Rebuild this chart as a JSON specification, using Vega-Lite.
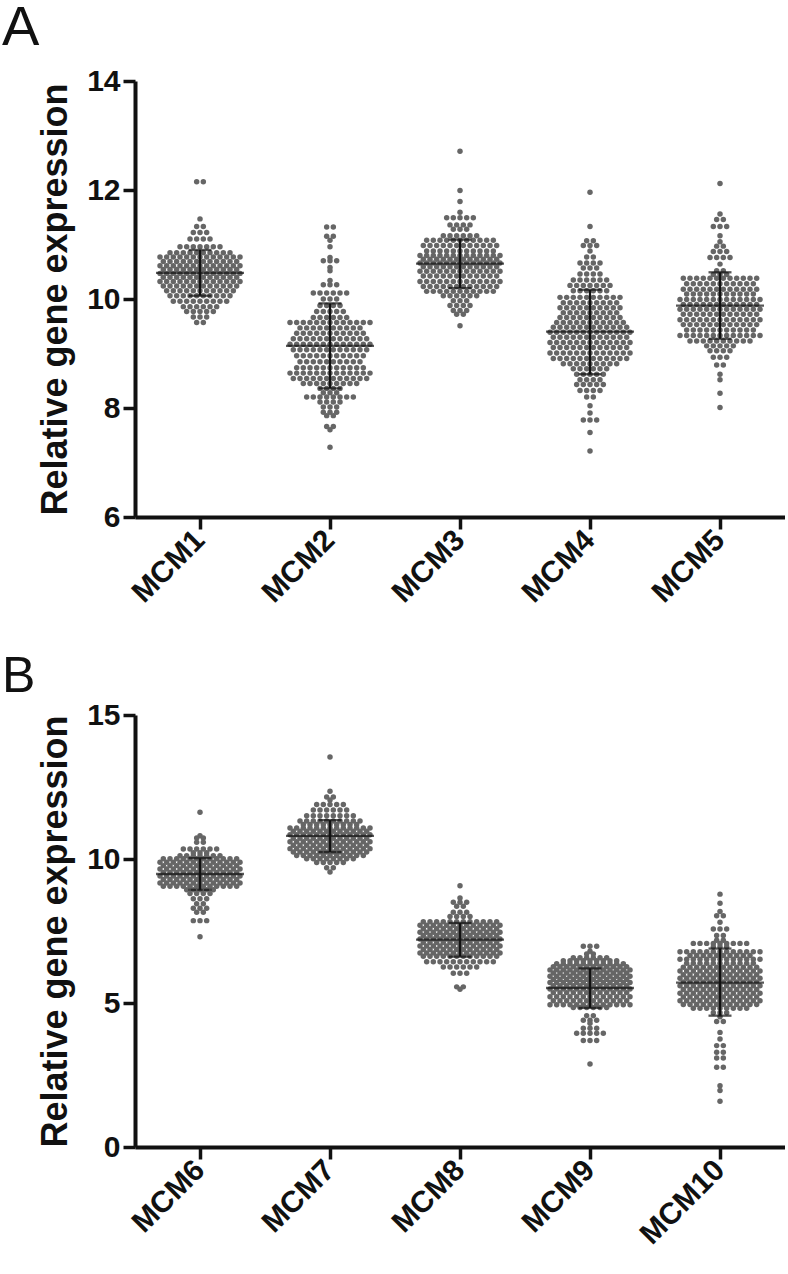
{
"$schema": "https://vega.github.io/schema/vega-lite/v6.json",
"background": "white",
"padding": {"left": 2, "top": 0, "right": 0, "bottom": 0},
"spacing": 198,
"bounds": "flush",
"datasets": {
"sa": [
{"g":"MCM1","m":10.48,"lo":10.06,"hi":10.90},
{"g":"MCM2","m":9.14,"lo":8.36,"hi":9.92},
{"g":"MCM3","m":10.65,"lo":10.20,"hi":11.09},
{"g":"MCM4","m":9.40,"lo":8.62,"hi":10.17},
{"g":"MCM5","m":9.88,"lo":9.27,"hi":10.49}
],
"sb": [
{"g":"MCM6","m":9.48,"lo":8.93,"hi":10.03},
{"g":"MCM7","m":10.80,"lo":10.24,"hi":11.35},
{"g":"MCM8","m":7.20,"lo":6.61,"hi":7.78},
{"g":"MCM9","m":5.52,"lo":4.83,"hi":6.20},
{"g":"MCM10","m":5.71,"lo":4.56,"hi":6.89}
]
},
"vconcat": [
{
"title": {"text": "A", "offset": 9, "fontSize": 56},
"width": 650,
"height": 436,
"layer": [
{
"data": {"values": "g,v\nMCM1,12.15\nMCM1,12.15\nMCM1,11.47\nMCM1,11.33\nMCM1,11.33\nMCM1,11.22\nMCM1,11.22\nMCM1,11.22\nMCM1,11.10\nMCM1,11.10\nMCM1,11.10\nMCM1,11.10\nMCM1,10.96\nMCM1,10.96\nMCM1,10.96\nMCM1,10.96\nMCM1,10.96\nMCM1,10.96\nMCM1,10.96\nMCM1,10.85\nMCM1,10.85\nMCM1,10.85\nMCM1,10.85\nMCM1,10.85\nMCM1,10.85\nMCM1,10.85\nMCM1,10.85\nMCM1,10.85\nMCM1,10.85\nMCM1,10.77\nMCM1,10.77\nMCM1,10.77\nMCM1,10.77\nMCM1,10.77\nMCM1,10.77\nMCM1,10.77\nMCM1,10.77\nMCM1,10.77\nMCM1,10.77\nMCM1,10.77\nMCM1,10.77\nMCM1,10.77\nMCM1,10.69\nMCM1,10.69\nMCM1,10.69\nMCM1,10.69\nMCM1,10.69\nMCM1,10.69\nMCM1,10.69\nMCM1,10.69\nMCM1,10.69\nMCM1,10.69\nMCM1,10.69\nMCM1,10.69\nMCM1,10.61\nMCM1,10.61\nMCM1,10.61\nMCM1,10.61\nMCM1,10.61\nMCM1,10.61\nMCM1,10.61\nMCM1,10.61\nMCM1,10.61\nMCM1,10.61\nMCM1,10.61\nMCM1,10.61\nMCM1,10.61\nMCM1,10.54\nMCM1,10.54\nMCM1,10.54\nMCM1,10.54\nMCM1,10.54\nMCM1,10.54\nMCM1,10.54\nMCM1,10.54\nMCM1,10.54\nMCM1,10.54\nMCM1,10.54\nMCM1,10.54\nMCM1,10.47\nMCM1,10.47\nMCM1,10.47\nMCM1,10.47\nMCM1,10.47\nMCM1,10.47\nMCM1,10.47\nMCM1,10.47\nMCM1,10.47\nMCM1,10.47\nMCM1,10.47\nMCM1,10.47\nMCM1,10.47\nMCM1,10.40\nMCM1,10.40\nMCM1,10.40\nMCM1,10.40\nMCM1,10.40\nMCM1,10.40\nMCM1,10.40\nMCM1,10.40\nMCM1,10.40\nMCM1,10.40\nMCM1,10.40\nMCM1,10.40\nMCM1,10.32\nMCM1,10.32\nMCM1,10.32\nMCM1,10.32\nMCM1,10.32\nMCM1,10.32\nMCM1,10.32\nMCM1,10.32\nMCM1,10.32\nMCM1,10.32\nMCM1,10.32\nMCM1,10.32\nMCM1,10.32\nMCM1,10.24\nMCM1,10.24\nMCM1,10.24\nMCM1,10.24\nMCM1,10.24\nMCM1,10.24\nMCM1,10.24\nMCM1,10.24\nMCM1,10.24\nMCM1,10.24\nMCM1,10.24\nMCM1,10.24\nMCM1,10.15\nMCM1,10.15\nMCM1,10.15\nMCM1,10.15\nMCM1,10.15\nMCM1,10.15\nMCM1,10.15\nMCM1,10.15\nMCM1,10.15\nMCM1,10.15\nMCM1,10.15\nMCM1,10.06\nMCM1,10.06\nMCM1,10.06\nMCM1,10.06\nMCM1,10.06\nMCM1,10.06\nMCM1,10.06\nMCM1,10.06\nMCM1,10.06\nMCM1,10.06\nMCM1,9.96\nMCM1,9.96\nMCM1,9.96\nMCM1,9.96\nMCM1,9.96\nMCM1,9.96\nMCM1,9.96\nMCM1,9.96\nMCM1,9.96\nMCM1,9.86\nMCM1,9.86\nMCM1,9.86\nMCM1,9.86\nMCM1,9.86\nMCM1,9.86\nMCM1,9.77\nMCM1,9.77\nMCM1,9.77\nMCM1,9.77\nMCM1,9.77\nMCM1,9.67\nMCM1,9.67\nMCM1,9.67\nMCM1,9.57\nMCM1,9.57\nMCM2,11.32\nMCM2,11.32\nMCM2,11.15\nMCM2,11.15\nMCM2,11.08\nMCM2,10.96\nMCM2,10.76\nMCM2,10.70\nMCM2,10.70\nMCM2,10.70\nMCM2,10.58\nMCM2,10.52\nMCM2,10.34\nMCM2,10.26\nMCM2,10.26\nMCM2,10.26\nMCM2,10.11\nMCM2,10.11\nMCM2,10.11\nMCM2,10.11\nMCM2,10.11\nMCM2,10.11\nMCM2,10.00\nMCM2,10.00\nMCM2,10.00\nMCM2,9.88\nMCM2,9.88\nMCM2,9.88\nMCM2,9.88\nMCM2,9.77\nMCM2,9.77\nMCM2,9.77\nMCM2,9.77\nMCM2,9.77\nMCM2,9.66\nMCM2,9.66\nMCM2,9.66\nMCM2,9.66\nMCM2,9.66\nMCM2,9.66\nMCM2,9.57\nMCM2,9.57\nMCM2,9.57\nMCM2,9.57\nMCM2,9.57\nMCM2,9.57\nMCM2,9.57\nMCM2,9.57\nMCM2,9.57\nMCM2,9.57\nMCM2,9.57\nMCM2,9.57\nMCM2,9.57\nMCM2,9.47\nMCM2,9.47\nMCM2,9.47\nMCM2,9.47\nMCM2,9.47\nMCM2,9.47\nMCM2,9.47\nMCM2,9.47\nMCM2,9.47\nMCM2,9.47\nMCM2,9.37\nMCM2,9.37\nMCM2,9.37\nMCM2,9.37\nMCM2,9.37\nMCM2,9.37\nMCM2,9.37\nMCM2,9.37\nMCM2,9.37\nMCM2,9.37\nMCM2,9.37\nMCM2,9.27\nMCM2,9.27\nMCM2,9.27\nMCM2,9.27\nMCM2,9.27\nMCM2,9.27\nMCM2,9.27\nMCM2,9.27\nMCM2,9.27\nMCM2,9.27\nMCM2,9.27\nMCM2,9.27\nMCM2,9.17\nMCM2,9.17\nMCM2,9.17\nMCM2,9.17\nMCM2,9.17\nMCM2,9.17\nMCM2,9.17\nMCM2,9.17\nMCM2,9.17\nMCM2,9.17\nMCM2,9.17\nMCM2,9.17\nMCM2,9.17\nMCM2,9.07\nMCM2,9.07\nMCM2,9.07\nMCM2,9.07\nMCM2,9.07\nMCM2,9.07\nMCM2,9.07\nMCM2,9.07\nMCM2,9.07\nMCM2,9.07\nMCM2,9.07\nMCM2,9.07\nMCM2,8.96\nMCM2,8.96\nMCM2,8.96\nMCM2,8.96\nMCM2,8.96\nMCM2,8.96\nMCM2,8.96\nMCM2,8.96\nMCM2,8.96\nMCM2,8.96\nMCM2,8.96\nMCM2,8.85\nMCM2,8.85\nMCM2,8.85\nMCM2,8.85\nMCM2,8.85\nMCM2,8.85\nMCM2,8.85\nMCM2,8.85\nMCM2,8.85\nMCM2,8.85\nMCM2,8.74\nMCM2,8.74\nMCM2,8.74\nMCM2,8.74\nMCM2,8.74\nMCM2,8.74\nMCM2,8.74\nMCM2,8.74\nMCM2,8.74\nMCM2,8.74\nMCM2,8.74\nMCM2,8.64\nMCM2,8.64\nMCM2,8.64\nMCM2,8.64\nMCM2,8.64\nMCM2,8.64\nMCM2,8.64\nMCM2,8.64\nMCM2,8.64\nMCM2,8.64\nMCM2,8.64\nMCM2,8.64\nMCM2,8.64\nMCM2,8.54\nMCM2,8.54\nMCM2,8.54\nMCM2,8.54\nMCM2,8.54\nMCM2,8.54\nMCM2,8.54\nMCM2,8.54\nMCM2,8.54\nMCM2,8.54\nMCM2,8.54\nMCM2,8.54\nMCM2,8.45\nMCM2,8.45\nMCM2,8.45\nMCM2,8.45\nMCM2,8.45\nMCM2,8.45\nMCM2,8.45\nMCM2,8.45\nMCM2,8.45\nMCM2,8.36\nMCM2,8.36\nMCM2,8.36\nMCM2,8.36\nMCM2,8.28\nMCM2,8.28\nMCM2,8.28\nMCM2,8.20\nMCM2,8.20\nMCM2,8.20\nMCM2,8.20\nMCM2,8.20\nMCM2,8.20\nMCM2,8.20\nMCM2,8.20\nMCM2,8.11\nMCM2,8.11\nMCM2,8.11\nMCM2,8.11\nMCM2,8.02\nMCM2,8.02\nMCM2,8.02\nMCM2,7.92\nMCM2,7.92\nMCM2,7.92\nMCM2,7.86\nMCM2,7.86\nMCM2,7.66\nMCM2,7.66\nMCM2,7.60\nMCM2,7.28\nMCM3,12.71\nMCM3,11.99\nMCM3,11.79\nMCM3,11.59\nMCM3,11.49\nMCM3,11.49\nMCM3,11.49\nMCM3,11.49\nMCM3,11.49\nMCM3,11.36\nMCM3,11.36\nMCM3,11.36\nMCM3,11.36\nMCM3,11.28\nMCM3,11.28\nMCM3,11.28\nMCM3,11.16\nMCM3,11.16\nMCM3,11.16\nMCM3,11.16\nMCM3,11.16\nMCM3,11.16\nMCM3,11.08\nMCM3,11.08\nMCM3,11.08\nMCM3,11.08\nMCM3,11.08\nMCM3,11.08\nMCM3,11.08\nMCM3,11.08\nMCM3,11.08\nMCM3,11.08\nMCM3,11.08\nMCM3,10.98\nMCM3,10.98\nMCM3,10.98\nMCM3,10.98\nMCM3,10.98\nMCM3,10.98\nMCM3,10.98\nMCM3,10.98\nMCM3,10.98\nMCM3,10.98\nMCM3,10.98\nMCM3,10.98\nMCM3,10.88\nMCM3,10.88\nMCM3,10.88\nMCM3,10.88\nMCM3,10.88\nMCM3,10.88\nMCM3,10.88\nMCM3,10.88\nMCM3,10.88\nMCM3,10.88\nMCM3,10.88\nMCM3,10.80\nMCM3,10.80\nMCM3,10.80\nMCM3,10.80\nMCM3,10.80\nMCM3,10.80\nMCM3,10.80\nMCM3,10.80\nMCM3,10.80\nMCM3,10.80\nMCM3,10.80\nMCM3,10.80\nMCM3,10.80\nMCM3,10.73\nMCM3,10.73\nMCM3,10.73\nMCM3,10.73\nMCM3,10.73\nMCM3,10.73\nMCM3,10.73\nMCM3,10.73\nMCM3,10.73\nMCM3,10.73\nMCM3,10.73\nMCM3,10.73\nMCM3,10.66\nMCM3,10.66\nMCM3,10.66\nMCM3,10.66\nMCM3,10.66\nMCM3,10.66\nMCM3,10.66\nMCM3,10.66\nMCM3,10.66\nMCM3,10.66\nMCM3,10.66\nMCM3,10.66\nMCM3,10.66\nMCM3,10.59\nMCM3,10.59\nMCM3,10.59\nMCM3,10.59\nMCM3,10.59\nMCM3,10.59\nMCM3,10.59\nMCM3,10.59\nMCM3,10.59\nMCM3,10.59\nMCM3,10.59\nMCM3,10.59\nMCM3,10.51\nMCM3,10.51\nMCM3,10.51\nMCM3,10.51\nMCM3,10.51\nMCM3,10.51\nMCM3,10.51\nMCM3,10.51\nMCM3,10.51\nMCM3,10.51\nMCM3,10.51\nMCM3,10.51\nMCM3,10.51\nMCM3,10.42\nMCM3,10.42\nMCM3,10.42\nMCM3,10.42\nMCM3,10.42\nMCM3,10.42\nMCM3,10.42\nMCM3,10.42\nMCM3,10.42\nMCM3,10.42\nMCM3,10.42\nMCM3,10.42\nMCM3,10.32\nMCM3,10.32\nMCM3,10.32\nMCM3,10.32\nMCM3,10.32\nMCM3,10.32\nMCM3,10.32\nMCM3,10.32\nMCM3,10.32\nMCM3,10.32\nMCM3,10.32\nMCM3,10.32\nMCM3,10.32\nMCM3,10.23\nMCM3,10.23\nMCM3,10.23\nMCM3,10.23\nMCM3,10.23\nMCM3,10.23\nMCM3,10.23\nMCM3,10.23\nMCM3,10.23\nMCM3,10.23\nMCM3,10.23\nMCM3,10.23\nMCM3,10.14\nMCM3,10.14\nMCM3,10.14\nMCM3,10.14\nMCM3,10.14\nMCM3,10.14\nMCM3,10.14\nMCM3,10.14\nMCM3,10.14\nMCM3,10.14\nMCM3,10.14\nMCM3,10.06\nMCM3,10.06\nMCM3,10.06\nMCM3,10.06\nMCM3,10.06\nMCM3,10.06\nMCM3,9.97\nMCM3,9.97\nMCM3,9.97\nMCM3,9.88\nMCM3,9.88\nMCM3,9.88\nMCM3,9.88\nMCM3,9.79\nMCM3,9.79\nMCM3,9.79\nMCM3,9.72\nMCM3,9.72\nMCM3,9.51\nMCM4,11.96\nMCM4,11.33\nMCM4,11.07\nMCM4,11.07\nMCM4,10.98\nMCM4,10.98\nMCM4,10.98\nMCM4,10.88\nMCM4,10.77\nMCM4,10.77\nMCM4,10.66\nMCM4,10.66\nMCM4,10.66\nMCM4,10.66\nMCM4,10.57\nMCM4,10.57\nMCM4,10.57\nMCM4,10.46\nMCM4,10.46\nMCM4,10.46\nMCM4,10.46\nMCM4,10.35\nMCM4,10.35\nMCM4,10.35\nMCM4,10.35\nMCM4,10.35\nMCM4,10.35\nMCM4,10.25\nMCM4,10.25\nMCM4,10.25\nMCM4,10.25\nMCM4,10.25\nMCM4,10.25\nMCM4,10.25\nMCM4,10.15\nMCM4,10.15\nMCM4,10.15\nMCM4,10.15\nMCM4,10.15\nMCM4,10.15\nMCM4,10.03\nMCM4,10.03\nMCM4,10.03\nMCM4,10.03\nMCM4,10.03\nMCM4,10.03\nMCM4,10.03\nMCM4,10.03\nMCM4,10.03\nMCM4,10.03\nMCM4,9.93\nMCM4,9.93\nMCM4,9.93\nMCM4,9.93\nMCM4,9.93\nMCM4,9.93\nMCM4,9.93\nMCM4,9.93\nMCM4,9.93\nMCM4,9.84\nMCM4,9.84\nMCM4,9.84\nMCM4,9.84\nMCM4,9.84\nMCM4,9.84\nMCM4,9.84\nMCM4,9.84\nMCM4,9.84\nMCM4,9.84\nMCM4,9.75\nMCM4,9.75\nMCM4,9.75\nMCM4,9.75\nMCM4,9.75\nMCM4,9.75\nMCM4,9.75\nMCM4,9.75\nMCM4,9.75\nMCM4,9.66\nMCM4,9.66\nMCM4,9.66\nMCM4,9.66\nMCM4,9.66\nMCM4,9.66\nMCM4,9.66\nMCM4,9.66\nMCM4,9.66\nMCM4,9.66\nMCM4,9.57\nMCM4,9.57\nMCM4,9.57\nMCM4,9.57\nMCM4,9.57\nMCM4,9.57\nMCM4,9.57\nMCM4,9.57\nMCM4,9.57\nMCM4,9.57\nMCM4,9.57\nMCM4,9.48\nMCM4,9.48\nMCM4,9.48\nMCM4,9.48\nMCM4,9.48\nMCM4,9.48\nMCM4,9.48\nMCM4,9.48\nMCM4,9.48\nMCM4,9.48\nMCM4,9.48\nMCM4,9.48\nMCM4,9.39\nMCM4,9.39\nMCM4,9.39\nMCM4,9.39\nMCM4,9.39\nMCM4,9.39\nMCM4,9.39\nMCM4,9.39\nMCM4,9.39\nMCM4,9.39\nMCM4,9.39\nMCM4,9.39\nMCM4,9.39\nMCM4,9.30\nMCM4,9.30\nMCM4,9.30\nMCM4,9.30\nMCM4,9.30\nMCM4,9.30\nMCM4,9.30\nMCM4,9.30\nMCM4,9.30\nMCM4,9.30\nMCM4,9.30\nMCM4,9.30\nMCM4,9.20\nMCM4,9.20\nMCM4,9.20\nMCM4,9.20\nMCM4,9.20\nMCM4,9.20\nMCM4,9.20\nMCM4,9.20\nMCM4,9.20\nMCM4,9.20\nMCM4,9.20\nMCM4,9.20\nMCM4,9.20\nMCM4,9.11\nMCM4,9.11\nMCM4,9.11\nMCM4,9.11\nMCM4,9.11\nMCM4,9.11\nMCM4,9.11\nMCM4,9.11\nMCM4,9.11\nMCM4,9.11\nMCM4,9.11\nMCM4,9.11\nMCM4,9.01\nMCM4,9.01\nMCM4,9.01\nMCM4,9.01\nMCM4,9.01\nMCM4,9.01\nMCM4,9.01\nMCM4,9.01\nMCM4,9.01\nMCM4,9.01\nMCM4,9.01\nMCM4,9.01\nMCM4,9.01\nMCM4,8.91\nMCM4,8.91\nMCM4,8.91\nMCM4,8.91\nMCM4,8.91\nMCM4,8.91\nMCM4,8.91\nMCM4,8.91\nMCM4,8.91\nMCM4,8.91\nMCM4,8.91\nMCM4,8.91\nMCM4,8.81\nMCM4,8.81\nMCM4,8.81\nMCM4,8.81\nMCM4,8.81\nMCM4,8.81\nMCM4,8.81\nMCM4,8.81\nMCM4,8.81\nMCM4,8.72\nMCM4,8.72\nMCM4,8.72\nMCM4,8.72\nMCM4,8.72\nMCM4,8.72\nMCM4,8.62\nMCM4,8.62\nMCM4,8.62\nMCM4,8.62\nMCM4,8.62\nMCM4,8.52\nMCM4,8.52\nMCM4,8.52\nMCM4,8.52\nMCM4,8.43\nMCM4,8.43\nMCM4,8.43\nMCM4,8.43\nMCM4,8.43\nMCM4,8.32\nMCM4,8.32\nMCM4,8.32\nMCM4,8.32\nMCM4,8.20\nMCM4,8.20\nMCM4,8.04\nMCM4,7.91\nMCM4,7.78\nMCM4,7.78\nMCM4,7.78\nMCM4,7.55\nMCM4,7.21\nMCM5,12.12\nMCM5,11.56\nMCM5,11.46\nMCM5,11.46\nMCM5,11.33\nMCM5,11.33\nMCM5,11.33\nMCM5,11.16\nMCM5,11.05\nMCM5,10.97\nMCM5,10.97\nMCM5,10.87\nMCM5,10.87\nMCM5,10.87\nMCM5,10.76\nMCM5,10.76\nMCM5,10.76\nMCM5,10.76\nMCM5,10.64\nMCM5,10.52\nMCM5,10.52\nMCM5,10.45\nMCM5,10.45\nMCM5,10.45\nMCM5,10.38\nMCM5,10.38\nMCM5,10.38\nMCM5,10.38\nMCM5,10.38\nMCM5,10.38\nMCM5,10.38\nMCM5,10.38\nMCM5,10.38\nMCM5,10.38\nMCM5,10.38\nMCM5,10.38\nMCM5,10.28\nMCM5,10.28\nMCM5,10.28\nMCM5,10.28\nMCM5,10.28\nMCM5,10.28\nMCM5,10.28\nMCM5,10.28\nMCM5,10.28\nMCM5,10.28\nMCM5,10.28\nMCM5,10.18\nMCM5,10.18\nMCM5,10.18\nMCM5,10.18\nMCM5,10.18\nMCM5,10.18\nMCM5,10.18\nMCM5,10.18\nMCM5,10.18\nMCM5,10.18\nMCM5,10.18\nMCM5,10.18\nMCM5,10.09\nMCM5,10.09\nMCM5,10.09\nMCM5,10.09\nMCM5,10.09\nMCM5,10.09\nMCM5,10.09\nMCM5,10.09\nMCM5,10.09\nMCM5,10.09\nMCM5,10.09\nMCM5,9.99\nMCM5,9.99\nMCM5,9.99\nMCM5,9.99\nMCM5,9.99\nMCM5,9.99\nMCM5,9.99\nMCM5,9.99\nMCM5,9.99\nMCM5,9.99\nMCM5,9.99\nMCM5,9.99\nMCM5,9.99\nMCM5,9.90\nMCM5,9.90\nMCM5,9.90\nMCM5,9.90\nMCM5,9.90\nMCM5,9.90\nMCM5,9.90\nMCM5,9.90\nMCM5,9.90\nMCM5,9.90\nMCM5,9.90\nMCM5,9.90\nMCM5,9.81\nMCM5,9.81\nMCM5,9.81\nMCM5,9.81\nMCM5,9.81\nMCM5,9.81\nMCM5,9.81\nMCM5,9.81\nMCM5,9.81\nMCM5,9.81\nMCM5,9.81\nMCM5,9.81\nMCM5,9.81\nMCM5,9.72\nMCM5,9.72\nMCM5,9.72\nMCM5,9.72\nMCM5,9.72\nMCM5,9.72\nMCM5,9.72\nMCM5,9.72\nMCM5,9.72\nMCM5,9.72\nMCM5,9.72\nMCM5,9.72\nMCM5,9.62\nMCM5,9.62\nMCM5,9.62\nMCM5,9.62\nMCM5,9.62\nMCM5,9.62\nMCM5,9.62\nMCM5,9.62\nMCM5,9.62\nMCM5,9.62\nMCM5,9.62\nMCM5,9.62\nMCM5,9.62\nMCM5,9.53\nMCM5,9.53\nMCM5,9.53\nMCM5,9.53\nMCM5,9.53\nMCM5,9.53\nMCM5,9.53\nMCM5,9.53\nMCM5,9.53\nMCM5,9.53\nMCM5,9.53\nMCM5,9.53\nMCM5,9.43\nMCM5,9.43\nMCM5,9.43\nMCM5,9.43\nMCM5,9.43\nMCM5,9.43\nMCM5,9.43\nMCM5,9.43\nMCM5,9.43\nMCM5,9.43\nMCM5,9.43\nMCM5,9.33\nMCM5,9.33\nMCM5,9.33\nMCM5,9.33\nMCM5,9.33\nMCM5,9.33\nMCM5,9.33\nMCM5,9.33\nMCM5,9.33\nMCM5,9.33\nMCM5,9.33\nMCM5,9.33\nMCM5,9.33\nMCM5,9.23\nMCM5,9.23\nMCM5,9.23\nMCM5,9.23\nMCM5,9.23\nMCM5,9.23\nMCM5,9.23\nMCM5,9.23\nMCM5,9.23\nMCM5,9.23\nMCM5,9.14\nMCM5,9.14\nMCM5,9.14\nMCM5,9.14\nMCM5,9.14\nMCM5,9.05\nMCM5,9.05\nMCM5,9.05\nMCM5,9.05\nMCM5,8.93\nMCM5,8.93\nMCM5,8.93\nMCM5,8.79\nMCM5,8.79\nMCM5,8.62\nMCM5,8.52\nMCM5,8.27\nMCM5,8.01", "format": {"type": "csv", "parse": {"v": "number"}}},
"transform": [
{"window": [{"op": "row_number", "as": "r"}, {"op": "count", "as": "n"}], "groupby": ["g", "v"], "frame": [null, null]},
{"calculate": "datum.r - (datum.n + 1) / 2", "as": "o"}
],
"mark": {"type": "circle", "size": 30, "color": "#666666", "opacity": 1},
"encoding": {
"x": {"field": "g", "type": "nominal", "title": null, "scale": {"domain": ["MCM1","MCM2","MCM3","MCM4","MCM5"], "paddingInner": 0, "paddingOuter": 0}},
"xOffset": {"field": "o", "type": "quantitative", "scale": {"domain": [-9.75, 9.75], "range": [0, 130]}},
"y": {"field": "v", "type": "quantitative", "title": "Relative gene expression", "scale": {"domain": [6, 14], "nice": false, "zero": false}, "axis": {"values": [6, 8, 10, 12, 14]}}
}
},
{
"data": {"name": "sa"},
"mark": {"type": "rule", "color": "#111111", "strokeWidth": 2.3},
"encoding": {
"x": {"field": "g", "type": "nominal", "title": null},
"y": {"field": "lo", "type": "quantitative", "title": "Relative gene expression"},
"y2": {"field": "hi"}
}
},
{
"data": {"name": "sa"},
"mark": {"type": "tick", "color": "#111111", "size": 88, "thickness": 2.3},
"encoding": {
"x": {"field": "g", "type": "nominal", "title": null},
"y": {"field": "m", "type": "quantitative", "title": "Relative gene expression"}
}
},
{
"data": {"name": "sa"},
"mark": {"type": "tick", "color": "#111111", "size": 23, "thickness": 2.3},
"encoding": {
"x": {"field": "g", "type": "nominal", "title": null},
"y": {"field": "lo", "type": "quantitative", "title": "Relative gene expression"}
}
},
{
"data": {"name": "sa"},
"mark": {"type": "tick", "color": "#111111", "size": 23, "thickness": 2.3},
"encoding": {
"x": {"field": "g", "type": "nominal", "title": null},
"y": {"field": "hi", "type": "quantitative", "title": "Relative gene expression"}
}
}
]
},
{
"title": {"text": "B", "offset": -2, "fontSize": 50},
"width": 650,
"height": 432,
"layer": [
{
"data": {"values": "g,v\nMCM6,11.62\nMCM6,10.81\nMCM6,10.73\nMCM6,10.73\nMCM6,10.58\nMCM6,10.58\nMCM6,10.35\nMCM6,10.35\nMCM6,10.35\nMCM6,10.35\nMCM6,10.35\nMCM6,10.35\nMCM6,10.22\nMCM6,10.22\nMCM6,10.22\nMCM6,10.11\nMCM6,10.11\nMCM6,10.11\nMCM6,10.11\nMCM6,10.11\nMCM6,10.11\nMCM6,10.11\nMCM6,10.01\nMCM6,10.01\nMCM6,10.01\nMCM6,10.01\nMCM6,10.01\nMCM6,10.01\nMCM6,10.01\nMCM6,10.01\nMCM6,10.01\nMCM6,10.01\nMCM6,10.01\nMCM6,10.01\nMCM6,9.89\nMCM6,9.89\nMCM6,9.89\nMCM6,9.89\nMCM6,9.89\nMCM6,9.89\nMCM6,9.89\nMCM6,9.89\nMCM6,9.89\nMCM6,9.89\nMCM6,9.89\nMCM6,9.89\nMCM6,9.89\nMCM6,9.77\nMCM6,9.77\nMCM6,9.77\nMCM6,9.77\nMCM6,9.77\nMCM6,9.77\nMCM6,9.77\nMCM6,9.77\nMCM6,9.77\nMCM6,9.77\nMCM6,9.77\nMCM6,9.77\nMCM6,9.65\nMCM6,9.65\nMCM6,9.65\nMCM6,9.65\nMCM6,9.65\nMCM6,9.65\nMCM6,9.65\nMCM6,9.65\nMCM6,9.65\nMCM6,9.65\nMCM6,9.65\nMCM6,9.65\nMCM6,9.65\nMCM6,9.53\nMCM6,9.53\nMCM6,9.53\nMCM6,9.53\nMCM6,9.53\nMCM6,9.53\nMCM6,9.53\nMCM6,9.53\nMCM6,9.53\nMCM6,9.53\nMCM6,9.53\nMCM6,9.53\nMCM6,9.41\nMCM6,9.41\nMCM6,9.41\nMCM6,9.41\nMCM6,9.41\nMCM6,9.41\nMCM6,9.41\nMCM6,9.41\nMCM6,9.41\nMCM6,9.41\nMCM6,9.41\nMCM6,9.41\nMCM6,9.41\nMCM6,9.29\nMCM6,9.29\nMCM6,9.29\nMCM6,9.29\nMCM6,9.29\nMCM6,9.29\nMCM6,9.29\nMCM6,9.29\nMCM6,9.29\nMCM6,9.29\nMCM6,9.29\nMCM6,9.29\nMCM6,9.17\nMCM6,9.17\nMCM6,9.17\nMCM6,9.17\nMCM6,9.17\nMCM6,9.17\nMCM6,9.17\nMCM6,9.17\nMCM6,9.17\nMCM6,9.17\nMCM6,9.17\nMCM6,9.17\nMCM6,9.17\nMCM6,9.05\nMCM6,9.05\nMCM6,9.05\nMCM6,9.05\nMCM6,9.05\nMCM6,9.05\nMCM6,9.05\nMCM6,9.05\nMCM6,9.05\nMCM6,9.05\nMCM6,9.05\nMCM6,9.05\nMCM6,8.93\nMCM6,8.93\nMCM6,8.93\nMCM6,8.93\nMCM6,8.93\nMCM6,8.80\nMCM6,8.80\nMCM6,8.80\nMCM6,8.80\nMCM6,8.62\nMCM6,8.62\nMCM6,8.62\nMCM6,8.45\nMCM6,8.45\nMCM6,8.29\nMCM6,8.29\nMCM6,8.29\nMCM6,8.15\nMCM6,8.15\nMCM6,7.86\nMCM6,7.86\nMCM6,7.86\nMCM6,7.30\nMCM7,13.54\nMCM7,12.35\nMCM7,12.15\nMCM7,12.15\nMCM7,12.05\nMCM7,11.89\nMCM7,11.89\nMCM7,11.89\nMCM7,11.89\nMCM7,11.89\nMCM7,11.70\nMCM7,11.70\nMCM7,11.70\nMCM7,11.70\nMCM7,11.70\nMCM7,11.70\nMCM7,11.50\nMCM7,11.50\nMCM7,11.50\nMCM7,11.50\nMCM7,11.50\nMCM7,11.50\nMCM7,11.50\nMCM7,11.50\nMCM7,11.32\nMCM7,11.32\nMCM7,11.32\nMCM7,11.32\nMCM7,11.32\nMCM7,11.32\nMCM7,11.32\nMCM7,11.32\nMCM7,11.32\nMCM7,11.32\nMCM7,11.20\nMCM7,11.20\nMCM7,11.20\nMCM7,11.20\nMCM7,11.20\nMCM7,11.20\nMCM7,11.20\nMCM7,11.20\nMCM7,11.20\nMCM7,11.08\nMCM7,11.08\nMCM7,11.08\nMCM7,11.08\nMCM7,11.08\nMCM7,11.08\nMCM7,11.08\nMCM7,11.08\nMCM7,11.08\nMCM7,11.08\nMCM7,11.08\nMCM7,11.08\nMCM7,11.08\nMCM7,10.96\nMCM7,10.96\nMCM7,10.96\nMCM7,10.96\nMCM7,10.96\nMCM7,10.96\nMCM7,10.96\nMCM7,10.96\nMCM7,10.96\nMCM7,10.96\nMCM7,10.96\nMCM7,10.96\nMCM7,10.84\nMCM7,10.84\nMCM7,10.84\nMCM7,10.84\nMCM7,10.84\nMCM7,10.84\nMCM7,10.84\nMCM7,10.84\nMCM7,10.84\nMCM7,10.84\nMCM7,10.84\nMCM7,10.84\nMCM7,10.84\nMCM7,10.72\nMCM7,10.72\nMCM7,10.72\nMCM7,10.72\nMCM7,10.72\nMCM7,10.72\nMCM7,10.72\nMCM7,10.72\nMCM7,10.72\nMCM7,10.72\nMCM7,10.72\nMCM7,10.72\nMCM7,10.60\nMCM7,10.60\nMCM7,10.60\nMCM7,10.60\nMCM7,10.60\nMCM7,10.60\nMCM7,10.60\nMCM7,10.60\nMCM7,10.60\nMCM7,10.60\nMCM7,10.60\nMCM7,10.60\nMCM7,10.60\nMCM7,10.48\nMCM7,10.48\nMCM7,10.48\nMCM7,10.48\nMCM7,10.48\nMCM7,10.48\nMCM7,10.48\nMCM7,10.48\nMCM7,10.48\nMCM7,10.48\nMCM7,10.48\nMCM7,10.48\nMCM7,10.36\nMCM7,10.36\nMCM7,10.36\nMCM7,10.36\nMCM7,10.36\nMCM7,10.36\nMCM7,10.36\nMCM7,10.36\nMCM7,10.36\nMCM7,10.36\nMCM7,10.36\nMCM7,10.36\nMCM7,10.36\nMCM7,10.24\nMCM7,10.24\nMCM7,10.24\nMCM7,10.24\nMCM7,10.24\nMCM7,10.24\nMCM7,10.24\nMCM7,10.24\nMCM7,10.24\nMCM7,10.24\nMCM7,10.24\nMCM7,10.24\nMCM7,10.12\nMCM7,10.12\nMCM7,10.12\nMCM7,10.12\nMCM7,10.12\nMCM7,10.12\nMCM7,10.12\nMCM7,10.12\nMCM7,10.12\nMCM7,10.12\nMCM7,10.12\nMCM7,10.01\nMCM7,10.01\nMCM7,10.01\nMCM7,10.01\nMCM7,10.01\nMCM7,10.01\nMCM7,10.01\nMCM7,10.01\nMCM7,9.88\nMCM7,9.88\nMCM7,9.88\nMCM7,9.88\nMCM7,9.88\nMCM7,9.70\nMCM7,9.70\nMCM7,9.55\nMCM8,9.07\nMCM8,8.65\nMCM8,8.50\nMCM8,8.50\nMCM8,8.50\nMCM8,8.36\nMCM8,8.36\nMCM8,8.15\nMCM8,8.15\nMCM8,8.15\nMCM8,8.00\nMCM8,8.00\nMCM8,8.00\nMCM8,8.00\nMCM8,7.82\nMCM8,7.82\nMCM8,7.82\nMCM8,7.82\nMCM8,7.82\nMCM8,7.82\nMCM8,7.82\nMCM8,7.82\nMCM8,7.82\nMCM8,7.82\nMCM8,7.82\nMCM8,7.82\nMCM8,7.70\nMCM8,7.70\nMCM8,7.70\nMCM8,7.70\nMCM8,7.70\nMCM8,7.70\nMCM8,7.70\nMCM8,7.70\nMCM8,7.70\nMCM8,7.70\nMCM8,7.70\nMCM8,7.70\nMCM8,7.70\nMCM8,7.58\nMCM8,7.58\nMCM8,7.58\nMCM8,7.58\nMCM8,7.58\nMCM8,7.58\nMCM8,7.58\nMCM8,7.58\nMCM8,7.58\nMCM8,7.58\nMCM8,7.58\nMCM8,7.58\nMCM8,7.46\nMCM8,7.46\nMCM8,7.46\nMCM8,7.46\nMCM8,7.46\nMCM8,7.46\nMCM8,7.46\nMCM8,7.46\nMCM8,7.46\nMCM8,7.46\nMCM8,7.46\nMCM8,7.46\nMCM8,7.46\nMCM8,7.34\nMCM8,7.34\nMCM8,7.34\nMCM8,7.34\nMCM8,7.34\nMCM8,7.34\nMCM8,7.34\nMCM8,7.34\nMCM8,7.34\nMCM8,7.34\nMCM8,7.34\nMCM8,7.34\nMCM8,7.22\nMCM8,7.22\nMCM8,7.22\nMCM8,7.22\nMCM8,7.22\nMCM8,7.22\nMCM8,7.22\nMCM8,7.22\nMCM8,7.22\nMCM8,7.22\nMCM8,7.22\nMCM8,7.22\nMCM8,7.22\nMCM8,7.10\nMCM8,7.10\nMCM8,7.10\nMCM8,7.10\nMCM8,7.10\nMCM8,7.10\nMCM8,7.10\nMCM8,7.10\nMCM8,7.10\nMCM8,7.10\nMCM8,7.10\nMCM8,7.10\nMCM8,6.98\nMCM8,6.98\nMCM8,6.98\nMCM8,6.98\nMCM8,6.98\nMCM8,6.98\nMCM8,6.98\nMCM8,6.98\nMCM8,6.98\nMCM8,6.98\nMCM8,6.98\nMCM8,6.98\nMCM8,6.98\nMCM8,6.86\nMCM8,6.86\nMCM8,6.86\nMCM8,6.86\nMCM8,6.86\nMCM8,6.86\nMCM8,6.86\nMCM8,6.86\nMCM8,6.86\nMCM8,6.86\nMCM8,6.86\nMCM8,6.86\nMCM8,6.74\nMCM8,6.74\nMCM8,6.74\nMCM8,6.74\nMCM8,6.74\nMCM8,6.74\nMCM8,6.74\nMCM8,6.74\nMCM8,6.74\nMCM8,6.74\nMCM8,6.74\nMCM8,6.74\nMCM8,6.74\nMCM8,6.62\nMCM8,6.62\nMCM8,6.62\nMCM8,6.62\nMCM8,6.62\nMCM8,6.62\nMCM8,6.62\nMCM8,6.62\nMCM8,6.62\nMCM8,6.62\nMCM8,6.62\nMCM8,6.62\nMCM8,6.43\nMCM8,6.43\nMCM8,6.43\nMCM8,6.43\nMCM8,6.43\nMCM8,6.43\nMCM8,6.43\nMCM8,6.43\nMCM8,6.43\nMCM8,6.43\nMCM8,6.43\nMCM8,6.25\nMCM8,6.25\nMCM8,6.25\nMCM8,6.25\nMCM8,6.25\nMCM8,6.25\nMCM8,6.03\nMCM8,6.03\nMCM8,6.03\nMCM8,5.56\nMCM8,5.56\nMCM8,5.48\nMCM9,6.97\nMCM9,6.97\nMCM9,6.97\nMCM9,6.80\nMCM9,6.70\nMCM9,6.70\nMCM9,6.57\nMCM9,6.57\nMCM9,6.57\nMCM9,6.57\nMCM9,6.57\nMCM9,6.57\nMCM9,6.47\nMCM9,6.47\nMCM9,6.47\nMCM9,6.47\nMCM9,6.47\nMCM9,6.47\nMCM9,6.47\nMCM9,6.47\nMCM9,6.47\nMCM9,6.36\nMCM9,6.36\nMCM9,6.36\nMCM9,6.36\nMCM9,6.36\nMCM9,6.36\nMCM9,6.36\nMCM9,6.36\nMCM9,6.36\nMCM9,6.36\nMCM9,6.36\nMCM9,6.26\nMCM9,6.26\nMCM9,6.26\nMCM9,6.26\nMCM9,6.26\nMCM9,6.26\nMCM9,6.26\nMCM9,6.26\nMCM9,6.26\nMCM9,6.26\nMCM9,6.26\nMCM9,6.26\nMCM9,6.15\nMCM9,6.15\nMCM9,6.15\nMCM9,6.15\nMCM9,6.15\nMCM9,6.15\nMCM9,6.15\nMCM9,6.15\nMCM9,6.15\nMCM9,6.15\nMCM9,6.15\nMCM9,6.15\nMCM9,6.15\nMCM9,6.04\nMCM9,6.04\nMCM9,6.04\nMCM9,6.04\nMCM9,6.04\nMCM9,6.04\nMCM9,6.04\nMCM9,6.04\nMCM9,6.04\nMCM9,6.04\nMCM9,6.04\nMCM9,6.04\nMCM9,5.93\nMCM9,5.93\nMCM9,5.93\nMCM9,5.93\nMCM9,5.93\nMCM9,5.93\nMCM9,5.93\nMCM9,5.93\nMCM9,5.93\nMCM9,5.93\nMCM9,5.93\nMCM9,5.93\nMCM9,5.93\nMCM9,5.82\nMCM9,5.82\nMCM9,5.82\nMCM9,5.82\nMCM9,5.82\nMCM9,5.82\nMCM9,5.82\nMCM9,5.82\nMCM9,5.82\nMCM9,5.82\nMCM9,5.82\nMCM9,5.82\nMCM9,5.71\nMCM9,5.71\nMCM9,5.71\nMCM9,5.71\nMCM9,5.71\nMCM9,5.71\nMCM9,5.71\nMCM9,5.71\nMCM9,5.71\nMCM9,5.71\nMCM9,5.71\nMCM9,5.71\nMCM9,5.71\nMCM9,5.60\nMCM9,5.60\nMCM9,5.60\nMCM9,5.60\nMCM9,5.60\nMCM9,5.60\nMCM9,5.60\nMCM9,5.60\nMCM9,5.60\nMCM9,5.60\nMCM9,5.60\nMCM9,5.60\nMCM9,5.49\nMCM9,5.49\nMCM9,5.49\nMCM9,5.49\nMCM9,5.49\nMCM9,5.49\nMCM9,5.49\nMCM9,5.49\nMCM9,5.49\nMCM9,5.49\nMCM9,5.49\nMCM9,5.49\nMCM9,5.49\nMCM9,5.36\nMCM9,5.36\nMCM9,5.36\nMCM9,5.36\nMCM9,5.36\nMCM9,5.36\nMCM9,5.36\nMCM9,5.36\nMCM9,5.36\nMCM9,5.36\nMCM9,5.36\nMCM9,5.36\nMCM9,5.22\nMCM9,5.22\nMCM9,5.22\nMCM9,5.22\nMCM9,5.22\nMCM9,5.22\nMCM9,5.22\nMCM9,5.22\nMCM9,5.22\nMCM9,5.22\nMCM9,5.22\nMCM9,5.22\nMCM9,5.22\nMCM9,5.08\nMCM9,5.08\nMCM9,5.08\nMCM9,5.08\nMCM9,5.08\nMCM9,5.08\nMCM9,5.08\nMCM9,5.08\nMCM9,5.08\nMCM9,5.08\nMCM9,5.08\nMCM9,5.08\nMCM9,4.94\nMCM9,4.94\nMCM9,4.94\nMCM9,4.94\nMCM9,4.94\nMCM9,4.94\nMCM9,4.94\nMCM9,4.94\nMCM9,4.94\nMCM9,4.94\nMCM9,4.94\nMCM9,4.94\nMCM9,4.94\nMCM9,4.84\nMCM9,4.84\nMCM9,4.84\nMCM9,4.84\nMCM9,4.84\nMCM9,4.84\nMCM9,4.56\nMCM9,4.56\nMCM9,4.40\nMCM9,4.40\nMCM9,4.40\nMCM9,4.30\nMCM9,4.12\nMCM9,4.12\nMCM9,4.12\nMCM9,3.95\nMCM9,3.95\nMCM9,3.95\nMCM9,3.95\nMCM9,3.95\nMCM9,3.70\nMCM9,3.70\nMCM9,3.70\nMCM9,2.88\nMCM10,8.78\nMCM10,8.46\nMCM10,8.18\nMCM10,8.03\nMCM10,8.03\nMCM10,7.80\nMCM10,7.57\nMCM10,7.57\nMCM10,7.57\nMCM10,7.34\nMCM10,7.34\nMCM10,7.18\nMCM10,7.18\nMCM10,7.07\nMCM10,7.07\nMCM10,7.07\nMCM10,7.07\nMCM10,7.07\nMCM10,7.07\nMCM10,7.07\nMCM10,7.07\nMCM10,7.07\nMCM10,6.95\nMCM10,6.95\nMCM10,6.95\nMCM10,6.78\nMCM10,6.78\nMCM10,6.78\nMCM10,6.78\nMCM10,6.78\nMCM10,6.78\nMCM10,6.78\nMCM10,6.78\nMCM10,6.78\nMCM10,6.78\nMCM10,6.78\nMCM10,6.78\nMCM10,6.78\nMCM10,6.65\nMCM10,6.65\nMCM10,6.65\nMCM10,6.65\nMCM10,6.65\nMCM10,6.65\nMCM10,6.65\nMCM10,6.65\nMCM10,6.65\nMCM10,6.65\nMCM10,6.52\nMCM10,6.52\nMCM10,6.52\nMCM10,6.52\nMCM10,6.52\nMCM10,6.52\nMCM10,6.52\nMCM10,6.52\nMCM10,6.52\nMCM10,6.52\nMCM10,6.52\nMCM10,6.52\nMCM10,6.52\nMCM10,6.38\nMCM10,6.38\nMCM10,6.38\nMCM10,6.38\nMCM10,6.38\nMCM10,6.38\nMCM10,6.38\nMCM10,6.38\nMCM10,6.38\nMCM10,6.38\nMCM10,6.38\nMCM10,6.24\nMCM10,6.24\nMCM10,6.24\nMCM10,6.24\nMCM10,6.24\nMCM10,6.24\nMCM10,6.24\nMCM10,6.24\nMCM10,6.24\nMCM10,6.24\nMCM10,6.24\nMCM10,6.24\nMCM10,6.11\nMCM10,6.11\nMCM10,6.11\nMCM10,6.11\nMCM10,6.11\nMCM10,6.11\nMCM10,6.11\nMCM10,6.11\nMCM10,6.11\nMCM10,6.11\nMCM10,6.11\nMCM10,6.11\nMCM10,6.11\nMCM10,5.98\nMCM10,5.98\nMCM10,5.98\nMCM10,5.98\nMCM10,5.98\nMCM10,5.98\nMCM10,5.98\nMCM10,5.98\nMCM10,5.98\nMCM10,5.98\nMCM10,5.98\nMCM10,5.98\nMCM10,5.86\nMCM10,5.86\nMCM10,5.86\nMCM10,5.86\nMCM10,5.86\nMCM10,5.86\nMCM10,5.86\nMCM10,5.86\nMCM10,5.86\nMCM10,5.86\nMCM10,5.86\nMCM10,5.86\nMCM10,5.86\nMCM10,5.73\nMCM10,5.73\nMCM10,5.73\nMCM10,5.73\nMCM10,5.73\nMCM10,5.73\nMCM10,5.73\nMCM10,5.73\nMCM10,5.73\nMCM10,5.73\nMCM10,5.73\nMCM10,5.73\nMCM10,5.60\nMCM10,5.60\nMCM10,5.60\nMCM10,5.60\nMCM10,5.60\nMCM10,5.60\nMCM10,5.60\nMCM10,5.60\nMCM10,5.60\nMCM10,5.60\nMCM10,5.60\nMCM10,5.60\nMCM10,5.60\nMCM10,5.47\nMCM10,5.47\nMCM10,5.47\nMCM10,5.47\nMCM10,5.47\nMCM10,5.47\nMCM10,5.47\nMCM10,5.47\nMCM10,5.47\nMCM10,5.47\nMCM10,5.47\nMCM10,5.47\nMCM10,5.34\nMCM10,5.34\nMCM10,5.34\nMCM10,5.34\nMCM10,5.34\nMCM10,5.34\nMCM10,5.34\nMCM10,5.34\nMCM10,5.34\nMCM10,5.34\nMCM10,5.34\nMCM10,5.34\nMCM10,5.34\nMCM10,5.21\nMCM10,5.21\nMCM10,5.21\nMCM10,5.21\nMCM10,5.21\nMCM10,5.21\nMCM10,5.21\nMCM10,5.21\nMCM10,5.21\nMCM10,5.21\nMCM10,5.21\nMCM10,5.21\nMCM10,5.08\nMCM10,5.08\nMCM10,5.08\nMCM10,5.08\nMCM10,5.08\nMCM10,5.08\nMCM10,5.08\nMCM10,5.08\nMCM10,5.08\nMCM10,5.08\nMCM10,5.08\nMCM10,5.08\nMCM10,5.08\nMCM10,4.95\nMCM10,4.95\nMCM10,4.95\nMCM10,4.95\nMCM10,4.95\nMCM10,4.95\nMCM10,4.95\nMCM10,4.95\nMCM10,4.95\nMCM10,4.95\nMCM10,4.95\nMCM10,4.95\nMCM10,4.82\nMCM10,4.82\nMCM10,4.82\nMCM10,4.82\nMCM10,4.82\nMCM10,4.82\nMCM10,4.82\nMCM10,4.82\nMCM10,4.82\nMCM10,4.66\nMCM10,4.66\nMCM10,4.66\nMCM10,4.52\nMCM10,4.36\nMCM10,4.36\nMCM10,3.98\nMCM10,3.75\nMCM10,3.52\nMCM10,3.52\nMCM10,3.29\nMCM10,3.29\nMCM10,3.09\nMCM10,3.09\nMCM10,2.77\nMCM10,2.77\nMCM10,2.13\nMCM10,1.96\nMCM10,1.59", "format": {"type": "csv", "parse": {"v": "number"}}},
"transform": [
{"window": [{"op": "row_number", "as": "r"}, {"op": "count", "as": "n"}], "groupby": ["g", "v"], "frame": [null, null]},
{"calculate": "datum.r - (datum.n + 1) / 2", "as": "o"}
],
"mark": {"type": "circle", "size": 30, "color": "#666666", "opacity": 1},
"encoding": {
"x": {"field": "g", "type": "nominal", "title": null, "scale": {"domain": ["MCM6","MCM7","MCM8","MCM9","MCM10"], "paddingInner": 0, "paddingOuter": 0}},
"xOffset": {"field": "o", "type": "quantitative", "scale": {"domain": [-9.75, 9.75], "range": [0, 130]}},
"y": {"field": "v", "type": "quantitative", "title": "Relative gene expression", "scale": {"domain": [0, 15], "nice": false, "zero": false}, "axis": {"values": [0, 5, 10, 15]}}
}
},
{
"data": {"name": "sb"},
"mark": {"type": "rule", "color": "#111111", "strokeWidth": 2.3},
"encoding": {
"x": {"field": "g", "type": "nominal", "title": null},
"y": {"field": "lo", "type": "quantitative", "title": "Relative gene expression"},
"y2": {"field": "hi"}
}
},
{
"data": {"name": "sb"},
"mark": {"type": "tick", "color": "#111111", "size": 88, "thickness": 2.3},
"encoding": {
"x": {"field": "g", "type": "nominal", "title": null},
"y": {"field": "m", "type": "quantitative", "title": "Relative gene expression"}
}
},
{
"data": {"name": "sb"},
"mark": {"type": "tick", "color": "#111111", "size": 23, "thickness": 2.3},
"encoding": {
"x": {"field": "g", "type": "nominal", "title": null},
"y": {"field": "lo", "type": "quantitative", "title": "Relative gene expression"}
}
},
{
"data": {"name": "sb"},
"mark": {"type": "tick", "color": "#111111", "size": 23, "thickness": 2.3},
"encoding": {
"x": {"field": "g", "type": "nominal", "title": null},
"y": {"field": "hi", "type": "quantitative", "title": "Relative gene expression"}
}
}
]
}
],
"config": {
"view": {"stroke": null},
"font": "Liberation Sans",
"title": {"anchor": "start", "frame": "group", "fontWeight": "normal", "font": "Liberation Sans", "color": "#111111", "dx": -133, "baseline": "alphabetic"},
"axis": {"domainColor": "#111111", "domainWidth": 4, "tickColor": "#111111", "tickWidth": 3.5, "tickSize": 12, "labelFont": "Liberation Sans", "labelFontWeight": "bold", "labelFontSize": 30, "labelColor": "#111111", "titleFont": "Liberation Sans", "titleFontWeight": "bold", "titleFontSize": 36, "titleColor": "#111111", "grid": false, "labelPadding": 3, "labelFlush": false, "labelOverlap": false},
"axisX": {"labelAngle": -45, "labelAlign": "right", "labelBaseline": "middle", "labelPadding": 6},
"axisY": {"titlePadding": 12}
}
}
